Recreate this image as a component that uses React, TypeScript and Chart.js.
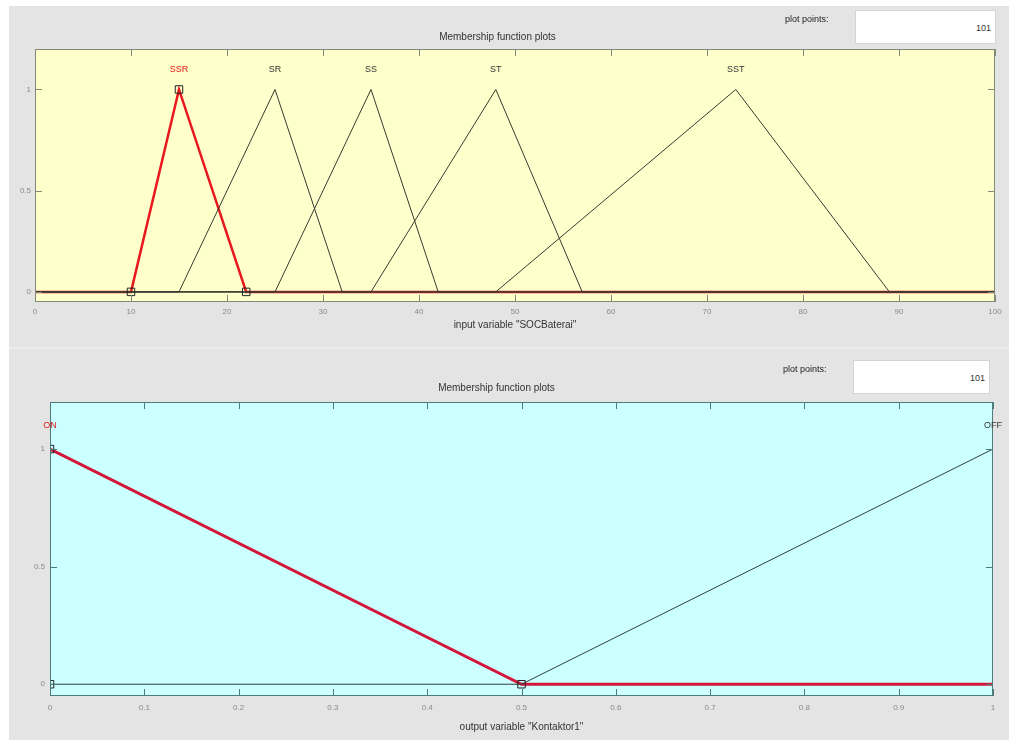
import React, { useEffect, useRef } from "react";
import { Chart, registerables } from "chart.js";

Chart.register(...registerables);

// ---------- data ----------
const inputTitle = "Membership function plots";
const inputAxisLabel = 'input variable "SOCBaterai"';
const inputRange = [0, 100];
const inputXTicks = [0, 10, 20, 30, 40, 50, 60, 70, 80, 90, 100];
const inputMfNames = ["SSR", "SR", "SS", "ST", "SST"];
const inputMfParams = [
  [10, 15, 22],
  [15, 25, 32],
  [25, 35, 42],
  [35, 48, 57],
  [48, 73, 89],
];
const inputSelected = 0;

const outputTitle = "Membership function plots";
const outputAxisLabel = 'output variable "Kontaktor1"';
const outputRange = [0, 1];
const outputXTicks = [0, 0.1, 0.2, 0.3, 0.4, 0.5, 0.6, 0.7, 0.8, 0.9, 1];
const outputMfNames = ["ON", "OFF"];
const outputMfParams = [
  [0, 0, 0.5],
  [0.5, 1, 1],
];
const outputSelected = 0;

const yTickValues = [0, 0.5, 1];
const yRange = [-0.05, 1.2];
const labelLevel = 1.1;
const plotPoints = "101";

const FONT = "'Liberation Sans', Arial, sans-serif";

function triLine(p: number[], lo: number, hi: number) {
  const [a, b, c] = p;
  const pts: { x: number; y: number }[] = [];
  if (a > lo) pts.push({ x: lo, y: 0 });
  if (a < b) pts.push({ x: a, y: 0 });
  pts.push({ x: b, y: 1 });
  if (c > b) pts.push({ x: c, y: 0 });
  if (c < hi) pts.push({ x: hi, y: 0 });
  return pts;
}

type PanelCfg = {
  title: string;
  axisLabel: string;
  range: number[];
  xTicks: number[];
  names: string[];
  params: number[][];
  selected: number;
  bg: string;
  frame: string;
  red: string;
  redWidth: number;
  black: string;
  width: number;
  height: number;
  yAxisWidth: number;
  padRight: number;
  titlePadTop: number;
  titlePadBottom: number;
  xAxisHeight: number;
  xTitlePadBottom: number;
  xTickPad: number;
  yTickPad: number;
};

function Panel({ cfg }: { cfg: PanelCfg }) {
  const ref = useRef<HTMLCanvasElement>(null);
  useEffect(() => {
    if (!ref.current) return;
    const [lo, hi] = cfg.range;
    const datasets: any[] = [];
    cfg.params.forEach((p, i) => {
      const sel = i === cfg.selected;
      datasets.push({
        type: "line",
        label: cfg.names[i],
        data: triLine(p, lo, hi),
        borderColor: sel ? cfg.red : cfg.black,
        borderWidth: sel ? cfg.redWidth : 1,
        pointRadius: 0,
        fill: false,
        tension: 0,
        order: sel ? 2 : 1,
      });
    });
    const sp = cfg.params[cfg.selected];
    datasets.push({
      type: "scatter",
      label: "markers",
      data: [
        { x: sp[0], y: 0 },
        { x: sp[1], y: 1 },
        { x: sp[2], y: 0 },
      ],
      pointStyle: "rect",
      pointRadius: 5.3,
      pointBackgroundColor: "rgba(0,0,0,0)",
      pointBorderColor: "#222",
      pointBorderWidth: 1,
      showLine: false,
      order: 0,
    });

    const bgPlugin = {
      id: "panelBg",
      beforeDatasetsDraw(chart: any) {
        const { ctx, chartArea } = chart;
        ctx.save();
        ctx.fillStyle = cfg.bg;
        ctx.fillRect(chartArea.left, chartArea.top, chartArea.width, chartArea.height);
        ctx.restore();
      },
    };
    const framePlugin = {
      id: "panelFrame",
      afterDraw(chart: any) {
        const { ctx, chartArea } = chart;
        const { left, right, top, bottom } = chartArea;
        const xs = chart.scales.x;
        const ys = chart.scales.y;
        ctx.save();
        ctx.strokeStyle = cfg.frame;
        ctx.lineWidth = 1;
        ctx.strokeRect(left + 0.5, top + 0.5, right - left - 1, bottom - top - 1);
        ctx.beginPath();
        xs.ticks.forEach((t: any) => {
          const px = Math.round(xs.getPixelForValue(t.value)) + 0.5;
          ctx.moveTo(px, bottom);
          ctx.lineTo(px, bottom - 7);
          ctx.moveTo(px, top);
          ctx.lineTo(px, top + 7);
        });
        ys.ticks.forEach((t: any) => {
          const py = Math.round(ys.getPixelForValue(t.value)) + 0.5;
          ctx.moveTo(left, py);
          ctx.lineTo(left + 7, py);
          ctx.moveTo(right, py);
          ctx.lineTo(right - 7, py);
        });
        ctx.stroke();
        // MF names
        ctx.font = `9px ${FONT}`;
        ctx.textAlign = "center";
        ctx.textBaseline = "middle";
        cfg.names.forEach((n, i) => {
          ctx.fillStyle = i === cfg.selected ? "#e01818" : "#333";
          ctx.fillText(n, xs.getPixelForValue(cfg.params[i][1]), ys.getPixelForValue(labelLevel));
        });
        ctx.restore();
      },
    };

    const chart = new Chart(ref.current, {
      type: "line",
      data: { datasets },
      plugins: [bgPlugin, framePlugin],
      options: {
        animation: false,
        responsive: false,
        events: [],
        layout: { padding: { left: 0, right: cfg.padRight, top: 0, bottom: 0 } },
        plugins: {
          legend: { display: false },
          tooltip: { enabled: false },
          title: {
            display: true,
            text: cfg.title,
            color: "#333",
            font: { family: FONT, size: 10, weight: "normal" as any, lineHeight: 1.2 },
            padding: { top: cfg.titlePadTop, bottom: cfg.titlePadBottom },
          },
        },
        scales: {
          x: {
            type: "linear",
            min: lo,
            max: hi,
            grid: { display: false, drawTicks: false, tickLength: 0 },
            border: { display: false },
            afterBuildTicks(scale: any) {
              scale.ticks = cfg.xTicks.map((v) => ({ value: v }));
            },
            afterFit(scale: any) {
              scale.height = cfg.xAxisHeight;
            },
            ticks: {
              color: "#8a8a8a",
              font: { family: FONT, size: 8 },
              padding: cfg.xTickPad,
              maxRotation: 0,
              autoSkip: false,
              callback: (v: any) => String(Math.round(Number(v) * 10) / 10),
            },
            title: {
              display: true,
              text: cfg.axisLabel,
              color: "#333",
              font: { family: FONT, size: 10 },
              padding: { top: 0, bottom: cfg.xTitlePadBottom },
            },
          },
          y: {
            type: "linear",
            min: yRange[0],
            max: yRange[1],
            grid: { display: false, drawTicks: false, tickLength: 0 },
            border: { display: false },
            afterBuildTicks(scale: any) {
              scale.ticks = yTickValues.map((v) => ({ value: v }));
            },
            afterFit(scale: any) {
              scale.width = cfg.yAxisWidth;
            },
            ticks: {
              color: "#8a8a8a",
              font: { family: FONT, size: 8 },
              padding: cfg.yTickPad,
              callback: (v: any) => String(v),
            },
          },
        },
      },
    });
    return () => chart.destroy();
  }, [cfg]);
  return (
    <canvas
      ref={ref}
      width={cfg.width}
      height={cfg.height}
      style={{ width: cfg.width, height: cfg.height, display: "block" }}
    />
  );
}

const topCfg: PanelCfg = {
  title: inputTitle,
  axisLabel: inputAxisLabel,
  range: inputRange,
  xTicks: inputXTicks,
  names: inputMfNames,
  params: inputMfParams,
  selected: inputSelected,
  bg: "#ffffcc",
  frame: "#7f8a78",
  red: "#e8181c",
  redWidth: 2.5,
  black: "#3a3a30",
  width: 1009,
  height: 345,
  yAxisWidth: 35,
  padRight: 14,
  titlePadTop: 31,
  titlePadBottom: 6,
  xAxisHeight: 43,
  xTitlePadBottom: 14,
  xTickPad: 5,
  yTickPad: 4,
};

const bottomCfg: PanelCfg = {
  title: outputTitle,
  axisLabel: outputAxisLabel,
  range: outputRange,
  xTicks: outputXTicks,
  names: outputMfNames,
  params: outputMfParams,
  selected: outputSelected,
  bg: "#ccffff",
  frame: "#4f7a7a",
  red: "#d4153a",
  redWidth: 3,
  black: "#2f4040",
  width: 1009,
  height: 395,
  yAxisWidth: 50,
  padRight: 16,
  titlePadTop: 37,
  titlePadBottom: 8,
  xAxisHeight: 44,
  xTitlePadBottom: 7,
  xTickPad: 7,
  yTickPad: 5,
};

function PlotPoints({ top, labelLeft, boxLeft, boxWidth }: { top: number; labelLeft: number; boxLeft: number; boxWidth: number }) {
  return (
    <>
      <div
        style={{
          position: "absolute",
          left: labelLeft,
          top: top,
          font: `9px ${FONT}`,
          color: "#222",
        }}
      >
        plot points:
      </div>
      <div
        style={{
          position: "absolute",
          left: boxLeft,
          top: top - 4,
          width: boxWidth,
          height: 34,
          boxSizing: "border-box",
          background: "#ffffff",
          border: "1px solid #d4d4d4",
          font: `9px ${FONT}`,
          color: "#333",
          textAlign: "right",
          paddingRight: 4,
          lineHeight: "34px",
        }}
      >
        {plotPoints}
      </div>
    </>
  );
}

export default function App() {
  return (
    <div
      style={{
        position: "absolute",
        left: 0,
        top: 0,
        width: 1009,
        height: 740,
        background: "#ffffff",
        overflow: "hidden",
      }}
    >
      <div
        style={{
          position: "absolute",
          left: 9,
          top: 6,
          width: 1000,
          height: 734,
          background: "#e4e4e4",
        }}
      />
      <div
        style={{
          position: "absolute",
          left: 9,
          top: 347,
          width: 1000,
          height: 2,
          background: "#eeeeee",
        }}
      />
      <div style={{ position: "absolute", left: 0, top: 0 }}>
        <Panel cfg={topCfg} />
      </div>
      <div style={{ position: "absolute", left: 0, top: 345 }}>
        <Panel cfg={bottomCfg} />
      </div>
      <PlotPoints top={14} labelLeft={785} boxLeft={855} boxWidth={141} />
      <PlotPoints top={364} labelLeft={783} boxLeft={853} boxWidth={137} />
    </div>
  );
}
